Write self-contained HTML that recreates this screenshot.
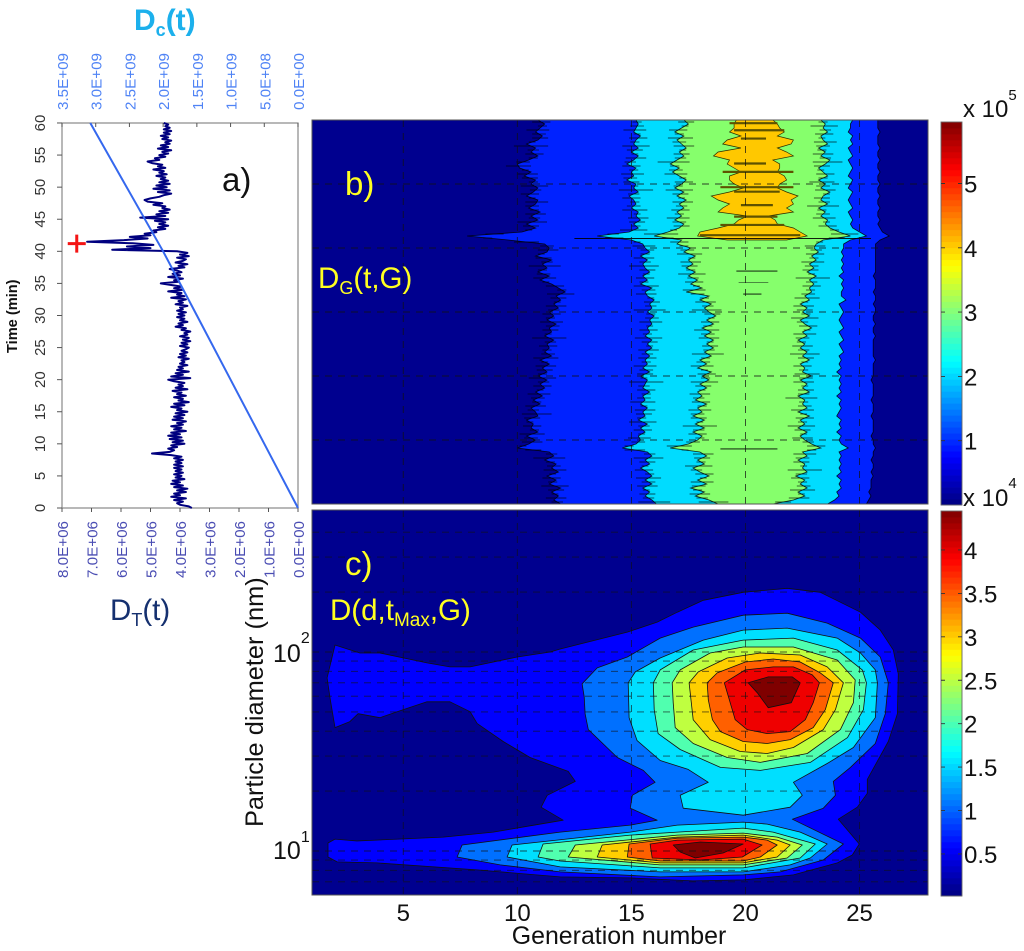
<!DOCTYPE html>
<html lang="en">
<head>
<meta charset="utf-8">
<title>Particle distribution panels</title>
<style>
html,body{margin:0;padding:0;background:#fff;}
svg{display:block;font-family:"Liberation Sans",sans-serif;}
</style>
</head>
<body>
<svg id="fig" xmlns="http://www.w3.org/2000/svg" width="1024" height="951" viewBox="0 0 1024 951">
  <defs>
    <clipPath id="clipB"><rect x="312" y="120" width="616" height="384"/></clipPath>
    <clipPath id="clipC"><rect x="312" y="510" width="616" height="385"/></clipPath>
  </defs>
  <rect x="0" y="0" width="1024" height="951" fill="#fff"/>
  <g id="panelA"></g>
  <g id="panelB"></g>
  <g id="panelC"></g>
  <g id="colorbars"></g>

  <text x="134" y="30" font-size="30" font-weight="bold" fill="#1cb0ec">D<tspan font-size="18" dy="6">c</tspan><tspan dy="-6">(t)</tspan></text>
  <text x="110" y="620" font-size="29.5" fill="#15306f">D<tspan font-size="18" dy="6">T</tspan><tspan dy="-6">(t)</tspan></text>
  <text transform="translate(17,353) rotate(-90)" font-size="14.6" font-weight="bold" fill="#111">Time (min)</text>
  <text x="222" y="191" font-size="33" fill="#111">a)</text>
  <text x="345" y="195" font-size="33" fill="#ffff20">b)</text>
  <text x="345" y="575" font-size="33" fill="#ffff20">c)</text>
  <text x="318" y="288" font-size="29.5" fill="#ffff20">D<tspan font-size="18" dy="6">G</tspan><tspan dy="-6">(t,G)</tspan></text>
  <text x="330" y="620" font-size="29.5" fill="#ffff20">D(d,t<tspan font-size="19" dy="6">Max</tspan><tspan dy="-6">,G)</tspan></text>
  <text transform="translate(263,827) rotate(-90)" font-size="25.4" fill="#111">Particle diameter (nm)</text>
  <text x="619" y="944" font-size="24.9" text-anchor="middle" fill="#111">Generation number</text>
  <text x="273" y="662" font-size="25" fill="#111">10<tspan font-size="16" dy="-19">2</tspan></text>
  <text x="273" y="859" font-size="25" fill="#111">10<tspan font-size="16" dy="-17">1</tspan></text>
  <text x="963" y="117" font-size="24" fill="#111">x 10<tspan font-size="15" dy="-17">5</tspan></text>
  <text x="963" y="506" font-size="24" fill="#111">x 10<tspan font-size="15" dy="-18">4</tspan></text>
</svg>
<script>
/* ---------- panel a data ---------- */
const leftTicks = [0,5,10,15,20,25,30,35,40,45,50,55,60];
const topTickValues = [3.5,3.0,2.5,2.0,1.5,1.0,0.5,0];
const topTickLabels = ['3.5E+09','3.0E+09','2.5E+09','2.0E+09','1.5E+09','1.0E+09','5.0E+08','0.0E+00'];
const bottomTickValues = [8,7,6,5,4,3,2,1,0];
const bottomTickLabels = ['8.0E+06','7.0E+06','6.0E+06','5.0E+06','4.0E+06','3.0E+06','2.0E+06','1.0E+06','0.0E+00'];
const dcTimes = [0,10,20,30,40,50,60];
const dcValues = [0,0.50,1.0,1.5,2.0,2.54,3.08];
const maxMarkerTime = [41.2];
const maxMarkerValue = [7.5];
const dtStep = 0.25;
const dtValues = [
3.6,3.7,4.0,4.1,3.9,4.2,3.8,4.3,4.0,4.2,3.8,4.1,3.75,4.2,3.9,4.3,4.0,4.25,3.85,4.15,
3.95,4.2,3.9,4.15,3.95,4.2,3.9,4.2,3.95,4.15,3.9,4.2,3.95,4.3,4.95,4.35,4.2,4.4,4.1,4.3,
3.85,4.25,3.9,4.35,3.95,4.4,4.0,4.3,3.8,4.2,3.95,4.3,3.9,4.1,3.8,4.25,3.9,4.2,3.85,4.15,
3.75,4.1,3.95,4.3,3.85,4.2,3.7,4.05,3.9,4.2,3.8,4.1,3.95,4.25,3.75,4.15,3.9,4.05,3.85,4.2,
4.4,3.65,4.3,3.9,4.15,3.7,4.1,3.9,4.05,3.75,4.0,3.85,3.95,3.7,4.05,3.8,4.0,3.75,3.95,3.8,
3.7,4.0,3.75,3.95,3.65,3.9,3.7,4.0,3.75,3.85,3.65,3.95,3.8,4.15,3.9,4.05,3.75,4.0,3.85,4.1,
3.85,4.05,3.8,4.1,3.9,4.0,3.75,4.15,3.9,4.05,3.8,4.3,3.85,4.1,3.95,4.4,3.9,4.2,3.95,4.3,
4.65,4.05,4.2,3.9,4.4,4.0,4.25,3.95,4.1,4.35,3.85,4.05,3.75,4.15,3.9,3.8,4.1,3.7,4.0,3.75,
4.1,6.3,5.0,5.8,4.9,5.6,7.15,5.9,5.1,5.7,5.0,5.2,4.8,4.9,4.5,4.75,4.4,4.7,4.5,4.85,
4.4,5.35,4.5,4.8,4.4,4.7,4.35,4.6,4.5,4.9,4.6,5.1,5.2,5.0,4.7,4.55,4.3,4.75,4.35,4.9,
4.45,4.8,4.35,4.7,4.4,4.65,4.5,4.8,4.45,4.7,4.55,4.9,4.5,4.75,4.6,4.95,5.1,4.7,4.85,4.5,
4.7,4.4,4.6,4.3,4.75,4.4,4.65,4.35,4.5,4.3,4.6,4.4,4.65,4.35,4.55,4.3,4.55,4.35,4.5,4.4,
4.55];

/* ---------- panel b data: band boundaries (generation number) against time, 0..60 min ---------- */
const bandBlueLeft = [
11.9,11.6,11.8,11.5,11.9,11.4,11.7,11.3,11.8,11.5,
11.7,11.2,11.6,11.4,10.0,10.5,10.8,10.4,10.9,10.6,
10.7,10.4,10.9,10.8,10.6,11.0,10.7,11.1,10.8,11.2,
11.0,11.3,10.9,11.3,11.1,11.4,11.0,11.5,11.2,11.4,
11.3,11.6,11.2,11.5,11.4,11.7,11.3,11.6,11.4,11.8,
11.6,11.9,11.7,12.1,11.8,11.5,11.0,11.4,10.9,11.3,
11.1,11.5,10.8,11.3,11.4,11.2,
9.6,7.8,10.2,10.8,10.4,10.9,10.6,11.0,10.5,10.8,10.9,10.4,10.7,10.9,10.6,10.8,10.3,10.6,10.1,10.0,10.5,10.9,10.6,10.8,10.4,10.9,11.1,10.8,11.0,11.2,10.9];
const bandCyanLeft = [
16.1,15.9,15.6,15.8,15.5,15.9,15.6,15.9,15.7,15.4,
15.8,15.6,15.9,15.7,14.6,15.2,15.4,15.3,15.6,15.4,
15.7,15.3,15.6,15.5,15.7,15.4,15.6,15.5,15.8,15.5,
15.6,15.7,15.4,15.8,15.5,15.7,15.6,15.8,15.6,15.9,
15.7,15.9,15.6,15.8,15.7,15.9,15.8,16.0,15.7,15.9,
15.8,16.0,15.7,15.6,15.9,15.4,15.7,15.5,15.8,15.6,
15.5,15.7,15.4,15.8,15.6,15.5,
15.0,13.5,14.9,15.3,15.1,15.4,15.2,15.3,15.0,15.2,15.1,14.9,15.3,15.1,15.2,14.8,15.1,15.0,15.2,14.8,15.1,15.3,15.0,15.3,15.1,15.2,15.4,15.1,15.2,15.3,15.2];
const bandGreenLeft = [
18.8,18.4,17.8,18.2,17.6,18.3,17.9,18.4,18.0,17.7,
18.2,17.9,18.3,18.0,16.7,17.5,17.9,18.1,17.7,18.2,
17.8,18.2,17.7,18.1,17.9,18.3,17.8,18.1,17.9,18.3,
18.0,18.4,18.1,18.5,17.9,18.3,18.0,18.5,18.2,18.6,
18.3,18.6,18.2,18.5,18.1,18.6,18.3,18.7,18.4,18.2,
18.5,18.0,18.4,17.4,18.1,17.6,17.9,17.5,17.8,17.4,
17.7,17.5,17.8,17.3,17.6,17.0,
17.2,16.0,16.6,17.1,17.3,16.9,17.2,17.0,17.3,17.1,17.4,17.0,17.3,16.9,17.2,17.4,17.1,16.8,17.1,16.7,17.0,17.3,17.1,17.4,17.2,17.0,17.3,16.9,17.2,17.5,17.3];
const bandGreenRight = [
21.2,22.1,22.6,22.3,22.7,22.4,22.6,22.2,22.7,22.5,
22.6,22.3,22.7,22.5,23.3,22.9,22.6,22.4,22.7,22.3,
22.6,22.4,22.8,22.3,22.7,22.5,22.6,22.3,22.8,22.5,
22.7,22.4,22.9,22.5,22.6,22.4,22.8,22.5,22.7,22.4,
22.6,22.3,22.7,22.5,22.9,22.6,22.4,22.8,22.5,22.7,
22.4,22.8,22.6,22.9,22.8,23.0,22.8,23.1,22.7,23.0,
22.8,23.1,22.9,23.2,23.0,23.1,
23.4,24.6,24.1,23.7,23.5,23.6,23.3,23.5,23.2,23.6,23.3,23.4,23.7,23.3,23.5,23.2,23.6,23.4,23.2,23.5,23.7,23.3,23.5,23.2,23.6,23.4,23.3,23.6,23.4,23.5,23.3];
const bandCyanRight = [
23.6,23.9,24.1,24.0,24.2,24.1,24.2,24.0,24.2,24.1,
24.2,24.1,24.2,24.1,24.5,24.2,24.1,24.2,24.0,24.2,
24.1,24.2,24.0,24.1,24.2,24.1,24.2,24.0,24.2,24.1,
24.2,24.1,24.2,24.0,24.2,24.1,24.2,24.1,24.3,24.2,
24.1,24.3,24.2,24.1,24.3,24.2,24.1,24.2,24.3,24.2,
24.1,24.4,24.2,24.2,24.3,24.2,24.3,24.1,24.3,24.2,
24.3,24.2,24.3,24.2,24.3,24.3,
24.6,25.3,25.0,24.7,24.6,24.7,24.6,24.5,24.7,24.6,24.5,24.6,24.7,24.5,24.6,24.7,24.5,24.6,24.7,24.6,24.5,24.7,24.6,24.5,24.7,24.6,24.7,24.5,24.6,24.6,24.7];
const bandBlueRight = [
25.3,25.4,25.5,25.4,25.5,25.5,25.5,25.6,25.5,25.6,
25.6,25.5,25.6,25.6,25.7,25.6,25.6,25.5,25.6,25.6,
25.6,25.6,25.5,25.6,25.6,25.6,25.5,25.6,25.6,25.6,
25.6,25.5,25.6,25.6,25.6,25.6,25.7,25.6,25.6,25.6,
25.6,25.6,25.7,25.6,25.6,25.7,25.6,25.6,25.7,25.7,
25.6,25.7,25.7,25.6,25.7,25.7,25.7,25.6,25.7,25.7,
25.7,25.7,25.7,25.7,25.7,25.7,
25.9,26.3,26.0,25.9,25.8,25.9,25.8,25.8,25.9,25.8,25.8,25.9,25.8,25.8,25.9,25.8,25.8,25.9,25.8,25.8,25.9,25.8,25.8,25.9,25.8,25.8,25.8,25.9,25.8,25.8,25.8];
const bandOrangeStart = 41.25;
const bandOrangeEnd = 60;
const bandOrangeLeft = [19.2,17.9,18.0,18.8,19.5,19.7,20.1,18.8,19.0,19.3,18.8,18.5,19.3,19.9,19.5,19.3,19.3,19.8,19.5,19.2,19.3,18.6,18.8,19.8,19.0,19.2,19.8,19.3,19.5,19.5,19.6];
const bandOrangeRight = [21.8,22.7,22.4,22.1,21.4,21.3,21.0,22.1,21.8,22.1,22.0,22.3,21.8,21.4,21.5,21.8,21.7,21.4,21.5,21.5,21.2,22.1,21.8,21.4,22.0,22.1,21.4,21.7,21.5,21.4,21.2];
const stripeTimes = [59.5,58.4,57.1,53.2,51.9,49.5,48.8,46.7,44.9,43.6,42.0];
const stripeFrom = [19.3,19.5,19.8,19.5,19.0,18.9,19.5,19.8,19.5,18.9,18.0];
const stripeTo = [21.4,21.7,20.9,20.9,22.1,22.1,21.5,21.2,21.4,21.7,22.4];
const spikeTimes = [8.6,36.4,32.8,41.5];
const spikeFrom = [18.9,19.6,19.9,12.5];
const spikeTo = [21.4,21.4,20.7,25.5];
const faintSpikeTimes = [34.6];
const faintSpikeFrom = [19.7];
const faintSpikeTo = [21.0];
const hairLengths = [0.5,0.9,0.3,0.7,1.2,0.4,0.8,0.3,1.0,0.6,0.4,1.4,0.5,0.7,0.3,0.9,0.6,1.1,0.4,0.8,0.3,0.7,1.3,0.5,0.9,0.4,0.6,1.0,0.3,0.8,0.5,1.2,0.4,0.7,0.9,0.3,1.1,0.6,0.4,0.8,0.5,1.5,0.3,0.7,0.6,1.0,0.4,0.8];
const gridGenerations = [5,10,15,20,25];
const gridTimes = [10,20,30,40,50];

/* ---------- panel c data: contour outlines as [generation, log10 diameter] ---------- */
const contourLevel1 = [[2.01,2.035],[3.10,1.995],[3.98,1.995],[6.04,1.945],[7.05,1.925],[7.93,1.925],[9.99,1.975],[11.44,2.0],[11.88,2.015],[14.82,2.10],[16.13,2.15],[17.01,2.20],[18.15,2.26],[19.90,2.30],[21.83,2.32],[23.28,2.30],[25.04,2.20],[25.91,2.11],[26.48,2.01],[26.70,1.89],[26.66,1.69],[26.26,1.55],[25.34,1.36],[25.34,1.29],[24.90,1.22],[24.07,1.16],[24.99,1.035],[24.68,0.98],[24.03,0.94],[22.10,0.88],[19.90,0.855],[17.70,0.85],[14.94,0.865],[11.88,0.87],[8.24,0.905],[3.85,0.94],[2.10,0.945],[1.70,0.97],[1.70,1.04],[2.01,1.06],[2.97,1.05],[6.75,1.07],[8.94,1.095],[12.01,1.155],[11.04,1.22],[11.31,1.28],[12.54,1.35],[12.23,1.40],[10.56,1.47],[9.38,1.55],[8.24,1.64],[7.93,1.70],[7.05,1.75],[6.04,1.75],[4.99,1.71],[3.98,1.67],[3.02,1.69],[2.66,1.65],[2.01,1.62],[1.79,1.77],[1.66,1.87]];
const contourLevel2 = [[12.84,1.84],[13.50,1.92],[14.82,1.975],[16.26,2.07],[17.71,2.125],[19.90,2.185],[21.83,2.195],[23.58,2.145],[25.04,2.07],[25.91,1.975],[26.26,1.845],[26.13,1.69],[25.69,1.54],[24.60,1.42],[23.85,1.35],[23.94,1.28],[23.41,1.215],[22.05,1.16],[24.29,1.035],[23.41,0.955],[21.52,0.895],[19.90,0.88],[16.26,0.87],[11.88,0.895],[9.25,0.93],[7.36,0.97],[7.58,1.03],[11.88,1.095],[14.95,1.13],[16.13,1.155],[14.95,1.215],[15.04,1.28],[16.04,1.345],[15.52,1.405],[14.38,1.47],[13.11,1.61],[12.97,1.69],[12.93,1.775]];
const contourLevel3Upper = [[14.86,1.845],[15.17,1.90],[16.26,1.97],[18.15,2.06],[19.90,2.11],[21.83,2.12],[24.02,2.07],[25.04,1.995],[25.69,1.91],[25.78,1.845],[25.69,1.67],[24.73,1.52],[23.59,1.44],[22.10,1.345],[22.49,1.28],[21.96,1.22],[19.90,1.18],[17.27,1.215],[17.14,1.28],[18.37,1.345],[17.49,1.41],[16.26,1.455],[15.25,1.555],[14.90,1.67]];
const contourLevel3Lower = [[9.55,0.97],[9.77,1.03],[14.95,1.095],[17.01,1.13],[19.90,1.145],[20.95,1.135],[22.40,1.095],[23.58,1.035],[22.84,0.965],[21.96,0.93],[19.90,0.895],[16.26,0.895],[11.88,0.92]];
const contourLevel4Upper = [[15.96,1.845],[16.26,1.91],[17.71,2.01],[19.90,2.06],[22.10,2.07],[24.02,2.01],[25.12,1.91],[25.30,1.845],[25.17,1.71],[24.47,1.57],[22.84,1.445],[20.65,1.405],[18.90,1.42],[17.14,1.51],[16.17,1.59],[16.00,1.71]];
const contourLevel4Lower = [[10.91,0.97],[11.13,1.035],[14.95,1.08],[17.01,1.095],[19.90,1.115],[21.21,1.095],[23.06,1.035],[22.40,0.965],[19.90,0.915],[16.26,0.915],[11.88,0.95]];
const contourLevel5Upper = [[16.79,1.845],[17.14,1.91],[18.45,1.995],[19.90,2.025],[22.10,2.025],[24.02,1.96],[24.81,1.86],[24.73,1.745],[24.16,1.61],[22.71,1.49],[20.65,1.445],[19.20,1.47],[17.71,1.54],[16.92,1.62],[16.83,1.745]];
const contourLevel5Lower = [[12.23,0.97],[12.54,1.03],[17.01,1.08],[19.90,1.09],[21.39,1.07],[22.49,1.03],[21.83,0.965],[19.90,0.93],[16.26,0.93]];
const contourLevel6Upper = [[17.53,1.845],[17.93,1.90],[19.20,1.97],[20.65,1.995],[22.40,1.985],[23.58,1.925],[24.29,1.845],[23.94,1.71],[23.41,1.61],[22.10,1.52],[20.95,1.49],[19.77,1.50],[18.45,1.56],[17.71,1.66]];
const contourLevel6Lower = [[13.50,0.97],[13.72,1.03],[17.01,1.07],[19.90,1.08],[21.39,1.055],[21.96,1.03],[21.39,0.97],[19.90,0.94],[16.26,0.94]];
const contourLevel7Upper = [[18.32,1.845],[18.76,1.895],[19.99,1.95],[21.22,1.965],[22.40,1.95],[23.28,1.895],[23.85,1.845],[23.50,1.71],[22.97,1.62],[21.96,1.56],[20.95,1.54],[19.90,1.55],[18.90,1.60],[18.55,1.66],[18.37,1.76]];
const contourLevel7Lower = [[14.82,0.97],[14.90,1.035],[17.01,1.065],[19.90,1.07],[20.95,1.055],[21.39,1.03],[20.65,0.97],[19.90,0.95],[16.26,0.95]];
const contourLevel8Upper = [[19.07,1.845],[19.99,1.91],[21.22,1.925],[22.10,1.925],[22.93,1.885],[23.24,1.845],[22.97,1.745],[22.62,1.66],[21.96,1.60],[20.95,1.59],[20.07,1.61],[19.55,1.66],[19.33,1.745]];
const contourLevel8Lower = [[15.91,0.965],[15.82,1.035],[17.01,1.055],[19.90,1.06],[20.73,1.03],[19.86,0.97],[18.02,0.955]];
const contourLevel9Upper = [[20.12,1.845],[21.00,1.875],[22.05,1.875],[22.40,1.845],[22.01,1.745],[21.00,1.72],[20.52,1.795]];
const contourLevel9Lower = [[16.83,1.03],[18.02,1.045],[19.90,1.035],[19.02,0.99],[17.80,0.965],[17.14,0.995]];
const logGridDiameters = [7,8,9,10,20,30,40,50,60,70,80,90,100,200,300,400];
const xTickValues = [5,10,15,20,25];
const xTickLabels = ['5','10','15','20','25'];

/* ---------- colorbar data ---------- */
const colorbarBTicks = [1,2,3,4,5];
const colorbarBLabels = ['1','2','3','4','5'];
const colorbarCTicks = [0.5,1,1.5,2,2.5,3,3.5,4];
const colorbarCLabels = ['0.5','1','1.5','2','2.5','3','3.5','4'];

/* ---------- axis functions ---------- */
const xDT = v => 298 - v * 29.5;
const xDC = v => 298 - v * 67.43;
const yTimeA = t => 508 - t * 6.417;
const xGen = g => 312 + (g - 1) * 22.815;
const yTimeB = t => 504 - t * 6.4;
const yLog = l => 851 - (l - 1) * 199;
const yBarB = v => 505 - v * 64.3;
const yBarC = v => 897.4 - v * 86.86;

const NS = 'http://www.w3.org/2000/svg';
function mk(tag, attrs, parent){
  const el = document.createElementNS(NS, tag);
  for (const k in attrs) el.setAttribute(k, attrs[k]);
  parent.appendChild(el);
  return el;
}
const pts = a => a.map(p => p[0].toFixed(1) + ',' + p[1].toFixed(1)).join(' ');
const seriesPts = (arr, fx) => arr.map((g, i) => [fx(g), yTimeB(i * 60 / (arr.length - 1))]);

/* ---------- panel a ---------- */
const A = document.getElementById('panelA');
const frameA = mk('rect', {x:62,y:123,width:236,height:385,fill:'#fff',stroke:'#888','stroke-width':1.2}, A);



leftTicks.forEach(t => {
  const y = yTimeA(t);
  const tk = mk('line', {x1:57,x2:62,y1:y,y2:y,stroke:'#555','stroke-width':1}, A);
  
  
  const lb = mk('text', {transform:'translate(45,' + y + ') rotate(-90)','font-size':15,'text-anchor':'middle',fill:'#333'}, A);
  
  
  lb.textContent = String(t);
});
topTickValues.forEach((v, i) => {
  const x = xDC(v);
  const tk = mk('line', {x1:x,x2:x,y1:123,y2:127,stroke:'#555','stroke-width':1}, A);
  
  
  const lb = mk('text', {transform:'translate(' + (x + 6) + ',110) rotate(-90)','font-size':15.2,fill:'#4f83f5'}, A);
  
  
  lb.textContent = topTickLabels[i];
});
bottomTickValues.forEach((v, i) => {
  const x = xDT(v);
  const tk = mk('line', {x1:x,x2:x,y1:508,y2:512,stroke:'#555','stroke-width':1}, A);
  
  
  const lb = mk('text', {transform:'translate(' + (x + 6) + ',578) rotate(-90)','font-size':15.2,fill:'#4a4db3'}, A);
  
  
  lb.textContent = bottomTickLabels[i];
});
const dtLine = mk('polyline', {points:pts(dtValues.map((v, i) => [xDT(v), yTimeA(i * dtStep)])),fill:'none',stroke:'#00007f','stroke-width':2,'stroke-linejoin':'round'}, A);


const dcLine = mk('polyline', {points:pts(dcValues.map((v, i) => [xDC(v), yTimeA(dcTimes[i])])),fill:'none',stroke:'#3568ee','stroke-width':2}, A);


const mx = xDT(maxMarkerValue[0]), my = yTimeA(maxMarkerTime[0]);
const plus = mk('path', {d:'M' + (mx - 9) + ' ' + my + 'H' + (mx + 9) + 'M' + mx + ' ' + (my - 9) + 'V' + (my + 9),stroke:'#f41414','stroke-width':3,fill:'none'}, A);



/* ---------- panel b ---------- */
const B = document.getElementById('panelB');
const plotB = mk('g', {'clip-path':'url(#clipB)'}, B);


const bgB = mk('rect', {x:312,y:120,width:616,height:384,fill:'#00008f'}, plotB);


function band(left, right, color, name){
  const l = seriesPts(left, xGen), r = seriesPts(right, xGen).reverse();
  const poly = mk('polygon', {points:pts(l.concat(r)),fill:color}, plotB);
  
  
}
band(bandBlueLeft, bandBlueRight, '#0022ff', 'band-blue');
band(bandCyanLeft, bandCyanRight, '#00dcff', 'band-cyan');
band(bandGreenLeft, bandGreenRight, '#86ff6c', 'band-green');
const orangeDt = (bandOrangeEnd - bandOrangeStart) / (bandOrangeLeft.length - 1);
const orL = bandOrangeLeft.map((g, i) => [xGen(g), yTimeB(bandOrangeStart + i * orangeDt)]);
const orR = bandOrangeRight.map((g, i) => [xGen(g), yTimeB(bandOrangeStart + i * orangeDt)]).reverse();
const orange = mk('polygon', {points:pts(orL.concat(orR)),fill:'#ffc800',stroke:'#2a2a00','stroke-width':0.7}, plotB);


stripeTimes.forEach((t, i) => {
  const y = yTimeB(t);
  const ln = mk('line', {x1:xGen(stripeFrom[i]),x2:xGen(stripeTo[i]),y1:y,y2:y,stroke:'#5e5200','stroke-width':2.2}, plotB);
  
  
});
[bandBlueLeft, bandCyanLeft, bandGreenLeft, bandGreenRight, bandCyanRight, bandBlueRight].forEach(arr => {
  const ln = mk('polyline', {points:pts(seriesPts(arr, xGen)),fill:'none',stroke:'#000','stroke-width':0.8,'stroke-opacity':0.85}, plotB);
  
  
});
[bandBlueLeft, bandCyanLeft, bandGreenLeft, bandGreenRight].forEach((arr, k) => {
  for (let i = 0; i < arr.length - 1; i++) {
    const len = hairLengths[(i + k * 11) % hairLengths.length];
    const mid = (arr[i] + arr[i + 1]) / 2;
    const y = yTimeB((i + 0.5) * 60 / (arr.length - 1));
    const hair = mk('line', {x1:xGen(mid - len / 2),x2:xGen(mid + len / 2),y1:y,y2:y,stroke:'#000','stroke-width':0.7,'stroke-opacity':0.85}, plotB);
    
    
  }
});
spikeTimes.forEach((t, i) => {
  const y = yTimeB(t);
  const ln = mk('line', {x1:xGen(spikeFrom[i]),x2:xGen(spikeTo[i]),y1:y,y2:y,stroke:'#000','stroke-width':0.9}, plotB);
  
  
});
faintSpikeTimes.forEach((t, i) => {
  const y = yTimeB(t);
  const ln = mk('line', {x1:xGen(faintSpikeFrom[i]),x2:xGen(faintSpikeTo[i]),y1:y,y2:y,stroke:'#4a8a40','stroke-width':1}, plotB);
  
  
});
gridGenerations.forEach(g => {
  const x = xGen(g);
  const ln = mk('line', {x1:x,x2:x,y1:120,y2:504,stroke:'#111','stroke-width':0.9,'stroke-dasharray':'7 6','stroke-opacity':0.8}, plotB);
  
  
});
gridTimes.forEach(t => {
  const y = yTimeB(t);
  const ln = mk('line', {x1:312,x2:928,y1:y,y2:y,stroke:'#111','stroke-width':0.9,'stroke-dasharray':'7 6','stroke-opacity':0.8}, plotB);
  
  
});
const frameB = mk('rect', {x:312,y:120,width:616,height:384,fill:'none',stroke:'#555','stroke-width':1}, B);



/* ---------- panel c ---------- */
const C = document.getElementById('panelC');
const plotC = mk('g', {'clip-path':'url(#clipC)'}, C);


const bgC = mk('rect', {x:312,y:510,width:616,height:385,fill:'#00008f'}, plotC);


function contour(verts, color){
  const poly = mk('polygon', {points:pts(verts.map(p => [xGen(p[0]), yLog(p[1])])),fill:color,stroke:'#111','stroke-width':0.8,'stroke-linejoin':'round'}, plotC);
  
  
}
contour(contourLevel1, '#0000ff');
contour(contourLevel2, '#0070ff');
contour(contourLevel3Upper, '#00dfff');
contour(contourLevel3Lower, '#00dfff');
contour(contourLevel4Upper, '#50ffaf');
contour(contourLevel4Lower, '#50ffaf');
contour(contourLevel5Upper, '#bfff40');
contour(contourLevel5Lower, '#bfff40');
contour(contourLevel6Upper, '#ffcf00');
contour(contourLevel6Lower, '#ffcf00');
contour(contourLevel7Upper, '#ff6000');
contour(contourLevel7Lower, '#ff6000');
contour(contourLevel8Upper, '#ef0000');
contour(contourLevel8Lower, '#ef0000');
contour(contourLevel9Upper, '#7f0000');
contour(contourLevel9Lower, '#7f0000');
gridGenerations.forEach(g => {
  const x = xGen(g);
  const ln = mk('line', {x1:x,x2:x,y1:510,y2:895,stroke:'#111','stroke-width':0.9,'stroke-dasharray':'7 6','stroke-opacity':0.7}, plotC);
  
  
});
logGridDiameters.forEach(d => {
  const y = yLog(Math.log10(d));
  const ln = mk('line', {x1:312,x2:928,y1:y,y2:y,stroke:'#111','stroke-width':0.9,'stroke-dasharray':'7 6','stroke-opacity':0.7}, plotC);
  
  
});
const frameC = mk('rect', {x:312,y:510,width:616,height:385,fill:'none',stroke:'#555','stroke-width':1}, C);


xTickValues.forEach((g, i) => {
  const lb = mk('text', {x:xGen(g),y:921,'font-size':24,'text-anchor':'middle',fill:'#111'}, C);
  
  
  lb.textContent = xTickLabels[i];
});

/* ---------- colorbars ---------- */
function jet(f){
  const c = v => Math.round(255 * Math.max(0, Math.min(1, v)));
  const r = 1.5 - Math.abs(4 * f - 3), g = 1.5 - Math.abs(4 * f - 2), b = 1.5 - Math.abs(4 * f - 1);
  return 'rgb(' + c(r) + ',' + c(g) + ',' + c(b) + ')';
}
const CB = document.getElementById('colorbars');
function colorbar(y0, y1, ticks, labels, ys, name){
  const h = (y1 - y0) / 64;
  for (let i = 0; i < 64; i++) {
    const sw = mk('rect', {x:941,y:(y1 - (i + 1) * h).toFixed(2),width:21,height:(h + 0.4).toFixed(2),fill:jet((i + 0.5) / 64)}, CB);
    
    
  }
  const fr = mk('rect', {x:941,y:y0,width:21,height:y1 - y0,fill:'none',stroke:'#666','stroke-width':0.9}, CB);
  
  
  ticks.forEach((v, i) => {
    const y = ys(v);
    const tk = mk('path', {d:'M941 ' + y + 'H945M958 ' + y + 'H962',stroke:'#333','stroke-width':0.9,fill:'none'}, CB);
    
    
    const lb = mk('text', {x:964,y:y + 9,'font-size':24,fill:'#111'}, CB);
    
    
    lb.textContent = labels[i];
  });
}
colorbar(122, 505, colorbarBTicks, colorbarBLabels, yBarB, 'colorbar-b');
colorbar(511, 896, colorbarCTicks, colorbarCLabels, yBarC, 'colorbar-c');
</script>
</body>
</html>
